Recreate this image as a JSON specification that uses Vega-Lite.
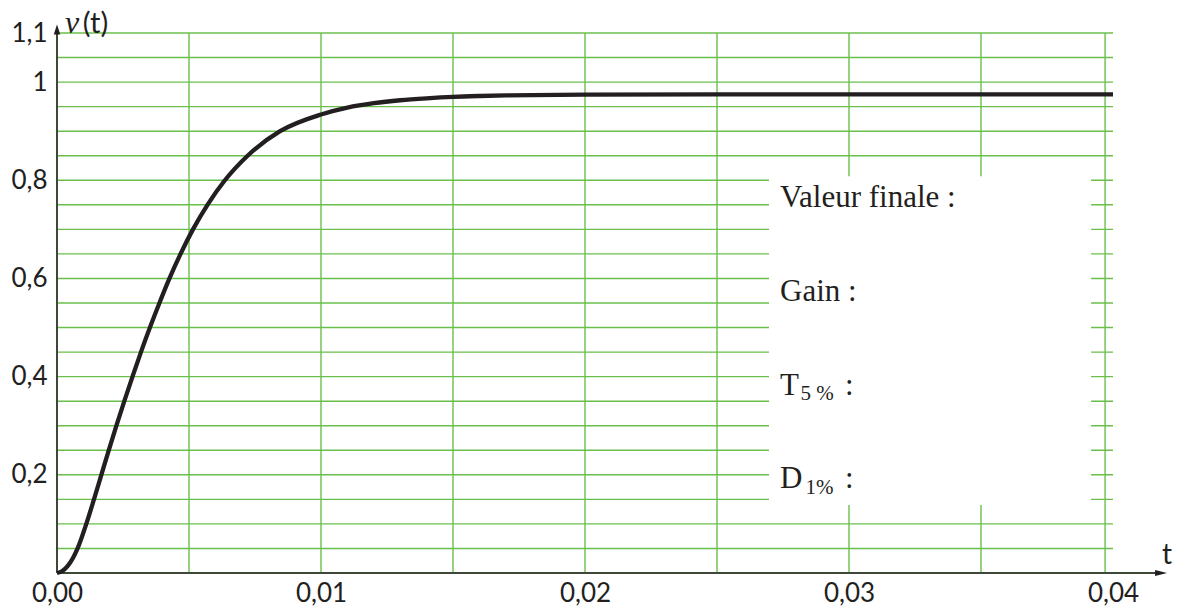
{
  "$schema": "https://vega.github.io/schema/vega-lite/v6.json",
  "width": 1056,
  "height": 540,
  "padding": {"left": 57, "top": 33, "right": 66, "bottom": 42},
  "autosize": {"type": "none"},
  "background": "white",
  "config": {"view": {"stroke": null}},
  "datasets": {
    "curve": [
      {"t": 0, "v": 0},
      {"t": 0.0002, "v": 0.004},
      {"t": 0.0004, "v": 0.014},
      {"t": 0.0006, "v": 0.03},
      {"t": 0.00078, "v": 0.05},
      {"t": 0.00111, "v": 0.1},
      {"t": 0.0014, "v": 0.15},
      {"t": 0.00168, "v": 0.2},
      {"t": 0.00196, "v": 0.25},
      {"t": 0.00225, "v": 0.3},
      {"t": 0.00255, "v": 0.35},
      {"t": 0.00286, "v": 0.4},
      {"t": 0.00318, "v": 0.45},
      {"t": 0.00352, "v": 0.5},
      {"t": 0.00388, "v": 0.55},
      {"t": 0.00426, "v": 0.6},
      {"t": 0.00468, "v": 0.65},
      {"t": 0.00515, "v": 0.7},
      {"t": 0.0057, "v": 0.75},
      {"t": 0.00636, "v": 0.8},
      {"t": 0.00722, "v": 0.85},
      {"t": 0.00845, "v": 0.9},
      {"t": 0.01, "v": 0.934},
      {"t": 0.011, "v": 0.948},
      {"t": 0.012, "v": 0.957},
      {"t": 0.013, "v": 0.963},
      {"t": 0.014, "v": 0.967},
      {"t": 0.015, "v": 0.97},
      {"t": 0.016, "v": 0.9717},
      {"t": 0.017, "v": 0.9728},
      {"t": 0.018, "v": 0.9736},
      {"t": 0.02, "v": 0.9744},
      {"t": 0.025, "v": 0.975},
      {"t": 0.03, "v": 0.975},
      {"t": 0.035, "v": 0.975},
      {"t": 0.04, "v": 0.975}
    ],
    "hgrid": [
      {"v": 0.05}, {"v": 0.1}, {"v": 0.15}, {"v": 0.2}, {"v": 0.25}, {"v": 0.3},
      {"v": 0.35}, {"v": 0.4}, {"v": 0.45}, {"v": 0.5}, {"v": 0.55}, {"v": 0.6},
      {"v": 0.65}, {"v": 0.7}, {"v": 0.75}, {"v": 0.8}, {"v": 0.85}, {"v": 0.9},
      {"v": 0.95}, {"v": 1.0}, {"v": 1.05}, {"v": 1.1}
    ],
    "vgrid": [
      {"t": 0.005}, {"t": 0.01}, {"t": 0.015}, {"t": 0.02}, {"t": 0.025},
      {"t": 0.03}, {"t": 0.035}, {"t": 0.0397}
    ],
    "box": [{"t": 0.02697, "t2": 0.03917, "v": 0.1384, "v2": 0.808}],
    "mainText": [
      {"t": 0.02739, "v": 0.745, "text": "Valeur finale :"},
      {"t": 0.02739, "v": 0.5536, "text": "Gain :"},
      {"t": 0.02739, "v": 0.3623, "text": "T"},
      {"t": 0.02985, "v": 0.3623, "text": ":"},
      {"t": 0.02739, "v": 0.173, "text": "D"},
      {"t": 0.02985, "v": 0.173, "text": ":"}
    ],
    "subText": [
      {"t": 0.02816, "v": 0.352, "text": "5 %"},
      {"t": 0.02835, "v": 0.1608, "text": "1%"}
    ],
    "xAxisLine": [{"t": 0, "t2": 0.0418, "v": 0}],
    "yAxisLine": [{"t": 0, "v": 0, "v2": 1.105}],
    "arrowRight": [{"t": 0.04182, "v": 0}],
    "arrowUp": [{"t": 0, "v": 1.1073}],
    "vLabel": [{"t": 0.0003, "v": 1.1}],
    "tLabel": [{"t": 0.00098, "v": 1.1}],
    "xName": [{"t": 0.04205, "v": 0.035}]
  },
  "layer": [
    {
      "data": {"name": "hgrid"},
      "mark": {"type": "rule", "color": "#6abf4b", "strokeWidth": 1.4},
      "encoding": {
        "x": {"datum": 0, "type": "quantitative", "scale": {"domain": [0, 0.04], "nice": false, "zero": false}, "axis": {
          "values": [0, 0.01, 0.02, 0.03, 0.04],
          "labelExpr": "replace(format(datum.value, '.2f'), '.', ',')",
          "title": null, "grid": false, "domain": false, "ticks": false,
          "labelFont": "Lato", "labelFontSize": 26, "labelColor": "#231f20",
          "labelPadding": 7, "labelFlush": false
        }},
        "x2": {"datum": 0.04},
        "y": {"field": "v", "type": "quantitative", "scale": {"domain": [0, 1.1], "nice": false, "zero": false}, "axis": {
          "values": [0.2, 0.4, 0.6, 0.8, 1, 1.1],
          "labelExpr": "replace(format(datum.value, '~g'), '.', ',')",
          "title": null, "grid": false, "domain": false, "ticks": false,
          "labelFont": "Lato", "labelFontSize": 26, "labelColor": "#231f20",
          "labelPadding": 10, "labelFlush": false
        }}
      }
    },
    {
      "data": {"name": "vgrid"},
      "mark": {"type": "rule", "color": "#6abf4b", "strokeWidth": 1.4},
      "encoding": {
        "x": {"field": "t", "type": "quantitative"},
        "y": {"datum": 0, "type": "quantitative"},
        "y2": {"datum": 1.1}
      }
    },
    {
      "data": {"name": "box"},
      "mark": {"type": "rect", "fill": "white", "stroke": null},
      "encoding": {
        "x": {"field": "t", "type": "quantitative"},
        "x2": {"field": "t2"},
        "y": {"field": "v", "type": "quantitative"},
        "y2": {"field": "v2"}
      }
    },
    {
      "data": {"name": "mainText"},
      "mark": {"type": "text", "font": "Liberation Serif", "fontSize": 31, "align": "left", "baseline": "alphabetic", "color": "#231f20"},
      "encoding": {
        "x": {"field": "t", "type": "quantitative"},
        "y": {"field": "v", "type": "quantitative"},
        "text": {"field": "text"}
      }
    },
    {
      "data": {"name": "subText"},
      "mark": {"type": "text", "font": "Liberation Serif", "fontSize": 21, "align": "left", "baseline": "alphabetic", "color": "#231f20"},
      "encoding": {
        "x": {"field": "t", "type": "quantitative"},
        "y": {"field": "v", "type": "quantitative"},
        "text": {"field": "text"}
      }
    },
    {
      "data": {"name": "xAxisLine"},
      "mark": {"type": "rule", "color": "#3e4838", "strokeWidth": 2},
      "encoding": {
        "x": {"field": "t", "type": "quantitative"},
        "x2": {"field": "t2"},
        "y": {"field": "v", "type": "quantitative"}
      }
    },
    {
      "data": {"name": "yAxisLine"},
      "mark": {"type": "rule", "color": "#3e4838", "strokeWidth": 2},
      "encoding": {
        "x": {"field": "t", "type": "quantitative"},
        "y": {"field": "v", "type": "quantitative"},
        "y2": {"field": "v2"}
      }
    },
    {
      "data": {"name": "arrowRight"},
      "mark": {"type": "point", "shape": "M-1,-0.5L1,0L-1,0.5Z", "size": 144, "filled": true, "color": "#231f20", "opacity": 1, "strokeWidth": 0},
      "encoding": {
        "x": {"field": "t", "type": "quantitative"},
        "y": {"field": "v", "type": "quantitative"}
      }
    },
    {
      "data": {"name": "arrowUp"},
      "mark": {"type": "point", "shape": "M-0.65,1L0,-1L0.65,1Z", "size": 100, "filled": true, "color": "#231f20", "opacity": 1, "strokeWidth": 0},
      "encoding": {
        "x": {"field": "t", "type": "quantitative"},
        "y": {"field": "v", "type": "quantitative"}
      }
    },
    {
      "data": {"name": "curve"},
      "mark": {"type": "line", "color": "#231f20", "strokeWidth": 4.3, "interpolate": "monotone"},
      "encoding": {
        "x": {"field": "t", "type": "quantitative"},
        "y": {"field": "v", "type": "quantitative"}
      }
    },
    {
      "data": {"name": "vLabel"},
      "mark": {"type": "text", "text": "v", "font": "Liberation Serif", "fontStyle": "italic", "fontSize": 32, "align": "left", "baseline": "alphabetic", "color": "#231f20"},
      "encoding": {
        "x": {"field": "t", "type": "quantitative"},
        "y": {"field": "v", "type": "quantitative"}
      }
    },
    {
      "data": {"name": "tLabel"},
      "mark": {"type": "text", "text": "(t)", "font": "Lato", "fontSize": 29, "align": "left", "baseline": "alphabetic", "color": "#231f20"},
      "encoding": {
        "x": {"field": "t", "type": "quantitative"},
        "y": {"field": "v", "type": "quantitative"}
      }
    },
    {
      "data": {"name": "xName"},
      "mark": {"type": "text", "text": "t", "font": "Lato", "fontSize": 28, "align": "center", "baseline": "middle", "color": "#231f20"},
      "encoding": {
        "x": {"field": "t", "type": "quantitative"},
        "y": {"field": "v", "type": "quantitative"}
      }
    }
  ]
}
